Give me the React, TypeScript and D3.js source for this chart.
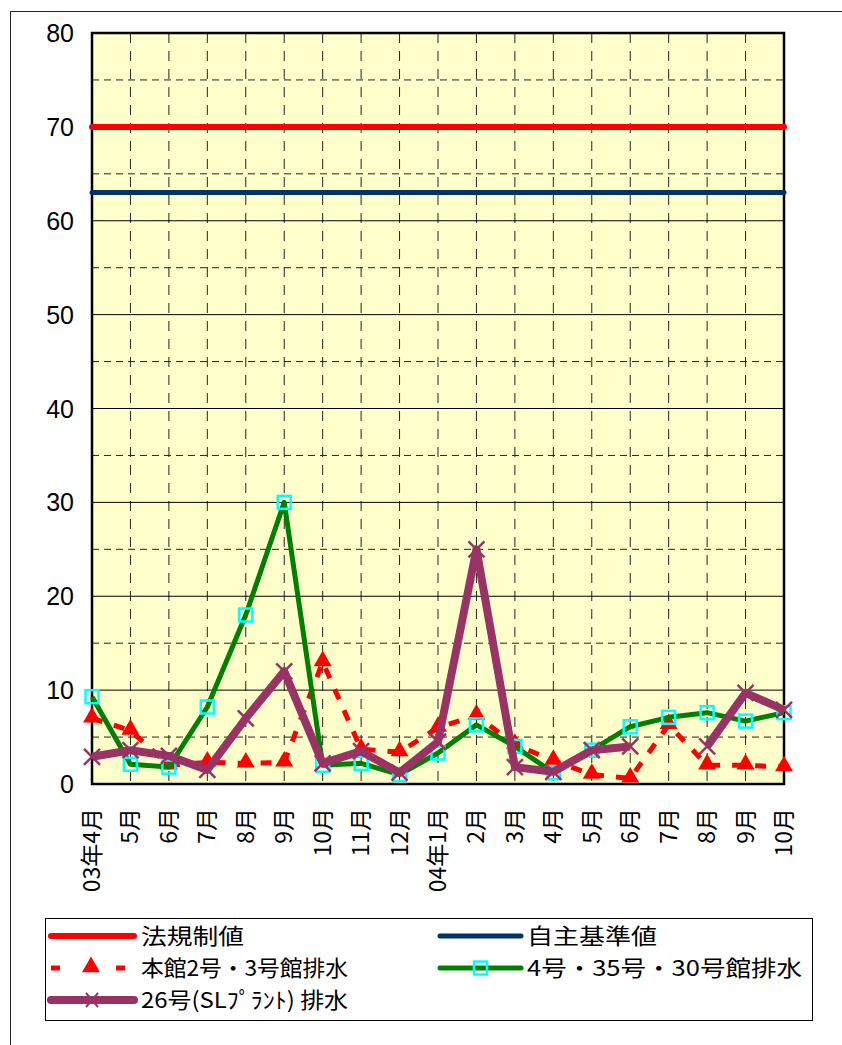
import { useMemo } from "react";
import * as d3 from "d3";

const WIDTH = 842;
const HEIGHT = 1045;
const PLOT = { left: 92, right: 784, top: 33, bottom: 784 };

const months = [
  "03年4月", "5月", "6月", "7月", "8月", "9月", "10月", "11月", "12月",
  "04年1月", "2月", "3月", "4月", "5月", "6月", "7月", "8月", "9月", "10月",
];
const yTicks = [0, 10, 20, 30, 40, 50, 60, 70, 80];

const legalLimit = 70;
const selfLimit = 63;
const honkan = [7, 5.7, 2, 2.3, 2.2, 2.3, 13, 3.7, 3.4, 6, 7.3, 4.2, 2.5, 1, 0.6, 6.3, 2, 2, 1.8];
const bldg4 = [9.3, 2.1, 1.8, 8.2, 18, 30, 2, 2.2, 1, 3.3, 6.3, 4, 1.2, 3.6, 6.1, 7.1, 7.6, 6.7, 7.6];
const no26: (number | null)[] = [2.9, 3.6, 3, 1.5, 7, 12, 2.2, 3.5, 1.2, 4.5, 25, 1.8, 1.3, 3.6, 4, null, 4, 9.7, 7.9];

const FONT_NUM = "'Liberation Sans Narrow', 'Liberation Sans', Arial, sans-serif";
const FONT_JP = "'Noto Sans CJK JP', 'Liberation Sans', sans-serif";

export default function App() {
  const x = useMemo(
    () => d3.scalePoint<number>().domain(months.map((_, i) => i)).range([PLOT.left, PLOT.right]),
    []
  );
  const y = useMemo(() => d3.scaleLinear().domain([0, 80]).range([PLOT.bottom, PLOT.top]), []);

  const line = d3
    .line<number | null>()
    .defined((d) => d !== null)
    .x((_, i) => x(i) as number)
    .y((d) => y(d as number));

  const tri = d3.symbol(d3.symbolTriangle, 140)();
  const gridMinor = d3.range(5, 80, 10);

  return (
    <svg width={WIDTH} height={HEIGHT} style={{ position: "absolute", left: 0, top: 0 }}>
      <rect x={0} y={0} width={WIDTH} height={HEIGHT} fill="#fff" />
      {/* outer chart frame */}
      <rect x={10.5} y={11.5} width={WIDTH} height={HEIGHT} fill="none" stroke="#222" strokeWidth={1} />

      {/* plot area */}
      <rect
        x={PLOT.left}
        y={PLOT.top}
        width={PLOT.right - PLOT.left}
        height={PLOT.bottom - PLOT.top}
        fill="#FFFFCC"
      />
      {gridMinor.map((v) => (
        <line key={"m" + v} x1={PLOT.left} x2={PLOT.right} y1={y(v)} y2={y(v)} stroke="#222" strokeWidth={1} strokeDasharray="7,5" />
      ))}
      {months.slice(1, -1).map((_, j) => (
        <line
          key={"v" + j}
          x1={x(j + 1)}
          x2={x(j + 1)}
          y1={PLOT.top}
          y2={PLOT.bottom}
          stroke="#222"
          strokeWidth={1}
          strokeDasharray="10,8"
        />
      ))}
      {yTicks.slice(1, -1).map((v) => (
        <line key={"g" + v} x1={PLOT.left} x2={PLOT.right} y1={y(v)} y2={y(v)} stroke="#000" strokeWidth={1} />
      ))}
      <rect
        x={PLOT.left}
        y={PLOT.top}
        width={PLOT.right - PLOT.left}
        height={PLOT.bottom - PLOT.top}
        fill="none"
        stroke="#000"
        strokeWidth={2.5}
      />

      {/* y labels */}
      {yTicks.map((v) => (
        <text key={"yl" + v} x={74} y={y(v)} dy="0.36em" textAnchor="end" fontFamily={FONT_NUM} fontSize={25} fill="#000">
          {v}
        </text>
      ))}

      {/* x labels */}
      {months.map((m, i) => (
        <text
          key={"xl" + i}
          transform={`translate(${(x(i) as number) + 8},${808}) rotate(-90)`}
          textAnchor="end"
          fontFamily={FONT_JP}
          fontSize={23}
          fill="#000"
        >
          {m}
        </text>
      ))}

      {/* limit lines */}
      <line x1={PLOT.left} x2={PLOT.right} y1={y(legalLimit)} y2={y(legalLimit)} stroke="#FF0000" strokeWidth={6} strokeLinecap="round" />
      <line x1={PLOT.left} x2={PLOT.right} y1={y(selfLimit)} y2={y(selfLimit)} stroke="#003366" strokeWidth={5} strokeLinecap="round" />

      {/* 本館 */}
      <path d={line(honkan) ?? ""} fill="none" stroke="#FF0000" strokeWidth={5} strokeDasharray="11,12" />
      {honkan.map((v, i) => (
        <path key={"t" + i} d={tri ?? ""} transform={`translate(${x(i)},${y(v) - 1})`} fill="#FF0000" />
      ))}

      {/* 4号 */}
      <path d={line(bldg4) ?? ""} fill="none" stroke="#008000" strokeWidth={5} strokeLinejoin="round" />
      {bldg4.map((v, i) => (
        <rect key={"s" + i} x={(x(i) as number) - 6.5} y={y(v) - 6.5} width={13} height={13} fill="none" stroke="#00FFFF" strokeWidth={2.5} />
      ))}

      {/* 26号 */}
      <path d={line(no26) ?? ""} fill="none" stroke="#993366" strokeWidth={8} strokeLinejoin="round" />
      {no26.map((v, i) =>
        v === null ? null : (
          <g key={"x" + i} transform={`translate(${x(i)},${y(v)})`} stroke="#993366" strokeWidth={2.5}>
            <line x1={-8} y1={-8} x2={8} y2={8} />
            <line x1={-8} y1={8} x2={8} y2={-8} />
          </g>
        )
      )}

      {/* legend */}
      <rect x={45.5} y={918.5} width={767} height={102} fill="#fff" stroke="#000" strokeWidth={1} />
      <g fontFamily={FONT_JP} fontSize={22} fill="#000">
        <line x1={51} x2={134} y1={936} y2={936} stroke="#FF0000" strokeWidth={6} strokeLinecap="round" />
        <text x={141} y={936} dy="0.36em" textLength={103} lengthAdjust="spacingAndGlyphs">法規制値</text>

        <line x1={440} x2={521} y1={936} y2={936} stroke="#003366" strokeWidth={5} strokeLinecap="round" />
        <text x={527} y={936} dy="0.36em" textLength={130} lengthAdjust="spacingAndGlyphs">自主基準値</text>

        <line x1={51} x2={60} y1={968} y2={968} stroke="#FF0000" strokeWidth={5} />
        <line x1={116} x2={125} y1={968} y2={968} stroke="#FF0000" strokeWidth={5} />
        <path d={tri ?? ""} transform={`translate(91,967)`} fill="#FF0000" />
        <text x={141} y={968} dy="0.36em" textLength={207} lengthAdjust="spacingAndGlyphs">本館2号・3号館排水</text>

        <line x1={440} x2={521} y1={968} y2={968} stroke="#008000" strokeWidth={5} strokeLinecap="round" />
        <rect x={474} y={961.5} width={13} height={13} fill="none" stroke="#00FFFF" strokeWidth={2.5} />
        <text x={527} y={968} dy="0.36em" textLength={275} lengthAdjust="spacingAndGlyphs">4号・35号・30号館排水</text>

        <line x1={51} x2={134} y1={1000} y2={1000} stroke="#993366" strokeWidth={8} strokeLinecap="round" />
        <g transform="translate(92,1000)" stroke="#993366" strokeWidth={2}>
          <line x1={-6} y1={-7} x2={6} y2={7} />
          <line x1={-6} y1={7} x2={6} y2={-7} />
        </g>
        <text x={141} y={1000} dy="0.36em" textLength={207} lengthAdjust="spacingAndGlyphs">26号(SLﾌﾟﾗﾝﾄ) 排水</text>
      </g>
    </svg>
  );
}
